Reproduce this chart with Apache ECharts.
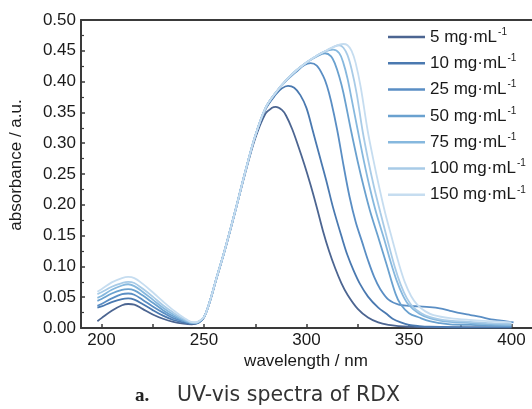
<!DOCTYPE html>
<html>
<head>
<meta charset="utf-8">
<script src="https://cdn.jsdelivr.net/npm/echarts@6/dist/echarts.min.js"></script>
<style>
html,body{margin:0;padding:0;background:#fff;}
#chart{width:532px;height:409px;}
</style>
</head>
<body>
<div id="chart"></div>
<script>
// ---- data ----
const seriesNames = ['5', '10', '25', '50', '75', '100', '150'];
const seriesColors = ['#4c6591', '#4a79b0', '#5a8ec4', '#6aa1cf', '#86b8de', '#a8cbe7', '#c6ddf0'];
const xTickLabels = [200, 250, 300, 350, 400];
const xTicks = [200, 225, 250, 275, 300, 325, 350, 375, 400];

const s5 = [[198,0.011],[200,0.016],[205,0.028],[210,0.037],[213,0.039],[216,0.038],[220,0.031],[225,0.022],[230,0.015],[235,0.010],[240,0.007],[244,0.006],[247,0.008],[250,0.017],[253,0.044],[256,0.079],[260,0.124],[265,0.186],[270,0.250],[275,0.308],[280,0.348],[283,0.357],[285,0.359],[288,0.354],[290,0.345],[293,0.323],[296,0.295],[299,0.265],[302,0.232],[305,0.196],[308,0.158],[311,0.125],[314,0.097],[317,0.073],[320,0.054],[325,0.031],[330,0.017],[335,0.009],[340,0.005],[345,0.003],[350,0.002],[360,0.001],[380,0.001],[400,0.001]];
const s10 = [[198,0.033],[200,0.035],[205,0.042],[210,0.047],[213,0.048],[216,0.046],[220,0.039],[225,0.029],[230,0.020],[235,0.013],[240,0.009],[244,0.007],[247,0.008],[250,0.018],[253,0.045],[256,0.080],[260,0.125],[265,0.187],[270,0.252],[275,0.311],[280,0.355],[285,0.379],[288,0.389],[291,0.393],[294,0.390],[297,0.378],[300,0.357],[303,0.321],[306,0.284],[309.6,0.240],[313,0.195],[317.6,0.143],[320,0.118],[323,0.093],[326,0.072],[330,0.051],[335,0.033],[339,0.023],[342,0.015],[346,0.009],[350,0.005],[355,0.003],[360,0.002],[380,0.001],[400,0.001]];
const s25 = [[198,0.036],[200,0.039],[205,0.048],[210,0.055],[213,0.056],[216,0.054],[220,0.046],[225,0.035],[230,0.025],[235,0.016],[240,0.011],[245,0.008],[247,0.009],[250,0.018],[253,0.045],[256,0.080],[260,0.125],[265,0.187],[270,0.252],[275,0.312],[280,0.357],[285,0.382],[290,0.401],[295,0.416],[299,0.427],[302,0.430],[305,0.426],[308,0.410],[310,0.393],[312,0.368],[315,0.321],[318,0.265],[321,0.213],[324,0.172],[327,0.141],[330,0.110],[333,0.083],[336,0.063],[340,0.046],[345,0.038],[350,0.036],[355,0.035],[360,0.034],[365,0.032],[370,0.028],[375,0.024],[380,0.021],[385,0.018],[390,0.014],[395,0.012],[401,0.009]];
const s50 = [[198,0.044],[200,0.047],[205,0.056],[210,0.062],[213,0.063],[216,0.061],[220,0.053],[225,0.041],[230,0.029],[235,0.019],[240,0.012],[245,0.008],[247,0.009],[250,0.018],[253,0.045],[256,0.080],[260,0.125],[265,0.187],[270,0.252],[275,0.312],[280,0.357],[285,0.382],[290,0.402],[295,0.418],[300,0.431],[305,0.441],[309,0.446],[312,0.441],[314,0.428],[316,0.408],[318,0.382],[321.7,0.321],[325,0.270],[328,0.228],[331,0.190],[335.4,0.143],[339,0.104],[343.5,0.055],[346,0.038],[350,0.024],[355,0.017],[360,0.011],[365,0.008],[370,0.006],[380,0.005],[390,0.004],[400,0.003]];
const s75 = [[198,0.049],[200,0.052],[205,0.062],[210,0.069],[213,0.071],[216,0.068],[220,0.059],[225,0.046],[230,0.033],[235,0.022],[240,0.013],[245,0.008],[247,0.009],[250,0.018],[253,0.045],[256,0.080],[260,0.125],[265,0.187],[270,0.252],[275,0.312],[280,0.357],[285,0.382],[290,0.402],[295,0.418],[300,0.431],[305,0.442],[309,0.449],[313,0.452],[316,0.446],[318,0.430],[320,0.405],[322,0.372],[325,0.321],[328,0.271],[331,0.226],[334,0.187],[338,0.143],[341,0.108],[344,0.077],[347,0.053],[350,0.037],[355,0.023],[360,0.016],[365,0.012],[370,0.010],[380,0.008],[390,0.006],[400,0.005]];
const s100 = [[198,0.055],[200,0.058],[205,0.067],[210,0.073],[213,0.075],[216,0.073],[220,0.064],[225,0.051],[230,0.037],[235,0.025],[240,0.015],[245,0.009],[247,0.010],[250,0.018],[253,0.045],[256,0.080],[260,0.125],[265,0.187],[270,0.252],[275,0.312],[280,0.357],[285,0.382],[290,0.402],[295,0.418],[300,0.431],[305,0.442],[310,0.451],[313,0.456],[316,0.459],[318,0.455],[320,0.443],[322,0.420],[324.5,0.380],[327.3,0.321],[330,0.274],[333,0.228],[336,0.188],[339.5,0.143],[343,0.100],[346,0.070],[349,0.048],[352,0.034],[356,0.024],[360,0.018],[365,0.014],[370,0.012],[380,0.010],[390,0.008],[400,0.007]];
const s150 = [[198,0.059],[200,0.063],[205,0.074],[210,0.081],[213,0.083],[216,0.081],[220,0.072],[225,0.058],[230,0.043],[235,0.029],[240,0.017],[245,0.009],[247,0.010],[250,0.018],[253,0.045],[256,0.080],[260,0.125],[265,0.187],[270,0.252],[275,0.312],[280,0.357],[285,0.382],[290,0.402],[295,0.418],[300,0.431],[305,0.442],[310,0.451],[313,0.456],[316,0.460],[318,0.461],[320,0.459],[322,0.450],[324,0.430],[326.5,0.390],[329.8,0.321],[332.5,0.275],[335.5,0.228],[338.5,0.185],[341.9,0.143],[345,0.105],[348,0.074],[351,0.052],[354,0.038],[358,0.027],[362,0.021],[370,0.016],[380,0.013],[390,0.011],[400,0.009]];
const seriesData = [s5, s10, s25, s50, s75, s100, s150];

// ---- chart ----
const chart = echarts.init(document.getElementById('chart'), null, {renderer: 'canvas'});
const FONT = 'Liberation Sans, Arial, sans-serif';
const TXT = '#1a1a1a';
const AX = '#3a3a3a';

const option = {
  animation: false,
  backgroundColor: '#ffffff',
  grid: {left: 81, top: 20, width: 453, height: 308, containLabel: false},
  legend: {
    orient: 'vertical',
    left: 388,
    top: 27,
    padding: 0,
    itemWidth: 37,
    itemHeight: 2.5,
    itemGap: 6.3,
    icon: 'rect',
    data: seriesNames.map(n => n + ' mg·mL'),
    formatter: name => name + '{sup|-1}',
    textStyle: {
      fontFamily: FONT, fontSize: 17, color: TXT, lineHeight: 20,
      rich: {sup: {fontFamily: FONT, fontSize: 10, color: TXT, verticalAlign: 'top', lineHeight: 20, padding: [0,0,8,1]}}
    }
  },
  xAxis: [{
    type: 'value', min: 190, max: 410,
    axisLine: {show: true, onZero: false, lineStyle: {color: AX, width: 2}},
    axisTick: {show: true, inside: true, length: 4, customValues: xTicks, lineStyle: {color: AX, width: 1.5}},
    axisLabel: {customValues: xTickLabels, fontFamily: FONT, fontSize: 17, color: TXT, margin: 4},
    splitLine: {show: false}
  }, {
    type: 'value', min: 190, max: 410, position: 'top',
    axisLine: {show: true, onZero: false, lineStyle: {color: AX, width: 2}},
    axisTick: {show: false}, axisLabel: {show: false}, splitLine: {show: false}
  }],
  yAxis: {
    type: 'value', min: 0, max: 0.5, interval: 0.05,
    axisLine: {show: true, onZero: false, lineStyle: {color: AX, width: 2}},
    axisTick: {show: true, inside: true, length: 4, lineStyle: {color: AX, width: 1.5}},
    minorTick: {show: true, splitNumber: 2, length: 3, lineStyle: {color: AX, width: 1.2}},
    axisLabel: {fontFamily: FONT, fontSize: 17, color: TXT, margin: 5, formatter: v => v.toFixed(2)},
    splitLine: {show: false}
  },
  series: seriesNames.map((n, i) => ({
    name: n + ' mg·mL',
    type: 'line',
    data: seriesData[i],
    showSymbol: false,
    smooth: 0.35,
    color: seriesColors[i],
    lineStyle: {width: 1.8, color: seriesColors[i]}
  })),
  graphic: [
    {type: 'text', x: 16, y: 165, rotation: Math.PI / 2,
     style: {text: 'absorbance / a.u.', font: '17px ' + FONT, fill: TXT, align: 'center', verticalAlign: 'middle'}},
    {type: 'text', x: 306, y: 361,
     style: {text: 'wavelength / nm', font: '17px ' + FONT, fill: TXT, align: 'center', verticalAlign: 'middle'}},
    {type: 'text', x: 135, y: 396,
     style: {text: 'a.', font: 'bold 19px Liberation Serif, serif', fill: '#222', align: 'left', verticalAlign: 'middle'}},
    {type: 'text', x: 177, y: 396,
     style: {text: 'UV-vis spectra of RDX', font: '20.5px DejaVu Sans, sans-serif', fill: '#333', align: 'left', verticalAlign: 'middle'}}
  ]
};
chart.setOption(option);
</script>
</body>
</html>
